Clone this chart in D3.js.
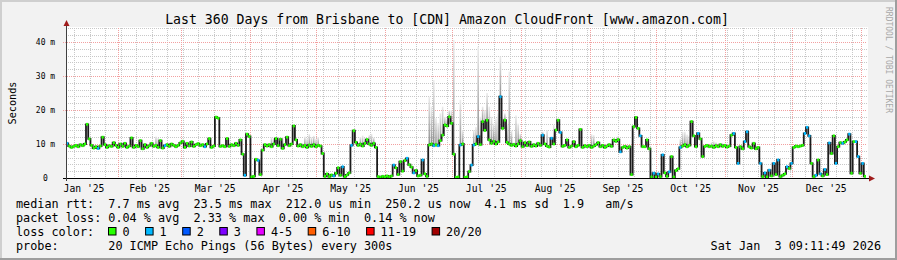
<!DOCTYPE html>
<html><head><meta charset="utf-8">
<script src="https://cdn.jsdelivr.net/npm/d3@7"></script>
<style>
body{margin:0;background:#f2f2f2}
svg{display:block}
text{font-family:"DejaVu Sans Mono",monospace;white-space:pre}
</style>
</head><body><svg id="c" width="897" height="260"></svg>
<script>
// ---------------- data ----------------
const startTime = new Date(2025, 0, 8, 9, 11, 49);
const endTime = new Date(2026, 0, 3, 9, 11, 49);

// daily median rtt (ms), day 0 = Jan 8 2025
const medianMs = [
  10.2, 9.4, 9.0, 9.3, 9.6, 9.2, 9.8, 9.5, 10.0, 15.8,
  11.5, 9.6, 8.8, 9.2, 8.7, 9.4, 12.0, 9.8, 9.0, 9.5,
  9.3, 10.4, 9.6, 9.0, 10.0, 9.3, 10.2, 9.0, 9.4, 11.8,
  9.0, 9.6, 9.2, 11.0, 8.6, 9.8, 9.0, 9.5, 10.2, 9.3,
  9.6, 9.0, 11.0, 8.8, 9.5, 9.8, 9.3, 10.0, 9.6, 9.2,
  9.6, 10.3, 10.8, 9.0, 10.2, 9.4, 10.6, 9.3, 9.8, 10.1,
  9.5, 9.8, 9.2, 10.0, 11.6, 9.0, 9.4, 17.9, 17.6, 9.3,
  9.5, 9.2, 11.6, 9.3, 9.8, 9.5, 10.2, 9.6, 11.2, 7.0,
  0.8, 12.9, 12.2, 0.3, 0.5, 5.5, 5.2, 1.0, 8.2, 9.8,
  9.4, 9.8, 9.2, 10.0, 11.6, 9.5, 11.4, 8.7, 9.8, 12.0,
  9.5, 10.0, 15.3, 11.2, 9.4, 9.8, 9.2, 9.6, 9.0, 9.7,
  9.3, 9.8, 9.2, 9.6, 9.4, 7.2, 0.5, 1.2, 0.4, 0.9,
  0.6, 1.4, 3.0, 0.8, 3.3, 0.4, 0.9, 1.5, 9.6, 13.9,
  10.5, 9.6, 10.0, 9.4, 10.2, 11.3, 10.0, 9.6, 10.2, 9.0,
  0.4, 0.2, 0.5, 0.3, 0.6, 0.3, 0.6, 3.8, 3.0, 1.0,
  4.8, 2.0, 5.1, 5.8, 3.9, 3.2, 1.5, 2.2, 0.6, 0.8,
  5.3, 1.2, 0.5, 9.7, 10.0, 9.5, 9.8, 9.5, 11.0, 12.6,
  15.6, 15.3, 18.0, 16.1, 7.0, 0.2, 0.3, 9.7, 10.0, 0.2,
  0.3, 1.9, 3.8, 9.7, 10.0, 12.2, 9.8, 16.6, 14.0, 17.0,
  11.2, 10.2, 10.8, 10.0, 10.6, 23.9, 14.6, 17.0, 10.5, 10.0,
  9.6, 9.9, 9.4, 10.0, 11.0, 9.2, 10.4, 9.5, 10.6, 9.3,
  9.8, 9.4, 10.2, 9.6, 12.6, 10.0, 9.4, 9.1, 11.7, 10.0,
  14.1, 17.0, 13.4, 9.3, 9.6, 11.2, 9.0, 9.4, 10.7, 9.2,
  9.6, 14.3, 9.0, 9.5, 9.2, 9.6, 9.0, 9.4, 9.8, 10.4,
  9.2, 9.6, 9.0, 9.4, 9.8, 9.3, 11.2, 10.8, 11.3, 7.7,
  9.0, 9.3, 8.8, 9.2, 1.0, 15.1, 17.8, 14.6, 12.4, 9.2,
  9.2, 11.2, 8.6, 0.3, 1.4, 0.2, 1.2, 0.4, 6.8, 1.5,
  0.5, 1.8, 6.3, 0.3, 2.2, 2.7, 9.0, 9.4, 9.8, 9.2,
  9.6, 16.6, 12.4, 9.2, 13.1, 11.5, 6.3, 9.3, 9.6, 9.2,
  9.4, 9.0, 9.5, 9.2, 9.8, 9.3, 9.6, 9.1, 9.4, 12.6,
  13.1, 9.0, 4.3, 9.2, 8.6, 10.7, 13.6, 9.2, 8.8, 10.2,
  8.6, 9.0, 4.3, 0.4, 1.5, 0.3, 2.3, 0.6, 4.3, 1.0,
  5.3, 0.4, 0.8, 1.2, 3.3, 2.8, 4.3, 9.0, 9.4, 9.2,
  9.4, 9.6, 13.1, 14.9, 12.4, 4.3, 0.4, 0.8, 5.3, 1.2,
  0.6, 2.5, 1.0, 10.3, 7.2, 12.4, 4.3, 9.2, 10.4, 10.2,
  10.6, 11.2, 12.9, 1.4, 10.7, 10.7, 6.3, 1.4, 4.3, 0.5
];

// days where 1 of 20 pings was lost (others: 0 loss)
const lossOneDays = [0, 14, 44, 62, 80, 86, 120, 124, 128, 147, 153, 156, 160, 165, 167,
  177, 182, 183, 185, 195, 214, 218, 222, 249, 258, 264, 266, 268, 271, 276, 284,
  300, 302, 305, 306, 312, 314, 316, 318, 320, 324, 326, 332, 333, 334, 337, 339,
  341, 343, 346, 349, 352, 355, 356, 358];

// smoke (max ping) spikes: [day, top ms]
const smokeTops = [
  [40, 12.2], [41, 11.8],
  [92, 12.0], [93, 11.8], [97, 12.0],
  [107, 12.2], [108, 11.6], [109, 12.9], [110, 12.0], [111, 12.4], [112, 11.5], [113, 12.0],
  [132, 12.0], [133, 12.5], [134, 11.8], [136, 12.6], [137, 13.0], [138, 11.9],
  [163, 23.9], [164, 21.0], [165, 28.8], [166, 17.6], [167, 16.2], [168, 19.0], [169, 21.0],
  [170, 18.0], [171, 17.5], [172, 20.0], [173, 20.0], [174, 40.6], [177, 23.0], [178, 14.0],
  [183, 14.1], [184, 15.0], [185, 38.6], [186, 18.0], [187, 21.0], [188, 20.0], [189, 25.0],
  [190, 21.0], [191, 18.0], [192, 16.0], [193, 17.5], [194, 19.0], [195, 35.7], [196, 18.0],
  [197, 19.0], [198, 16.0], [199, 31.3], [200, 14.0], [202, 18.4], [203, 16.0], [204, 13.0],
  [214, 13.6], [216, 14.1], [219, 15.6],
  [236, 12.9], [237, 12.6], [248, 12.3],
  [276, 11.5], [277, 13.6], [278, 13.6], [279, 12.8], [280, 12.5],
  [290, 10.5], [291, 10.8], [292, 10.5]
];

const yTickValues = [0, 10, 20, 30, 40];
const yTickLabels = ["0", "10 m", "20 m", "30 m", "40 m"];
const monthLabels = ["Jan '25", "Feb '25", "Mar '25", "Apr '25", "May '25", "Jun '25",
  "Jul '25", "Aug '25", "Sep '25", "Oct '25", "Nov '25", "Dec '25"];

const title = "Last 360 Days from Brisbane to [CDN] Amazon CloudFront [www.amazon.com]";
const legendRow1 = ["median rtt:", "7.7 ms avg", "23.5 ms max", "212.0 us min", "250.2 us now", "4.1 ms sd", "1.9", "am/s"];
const legendRow1Cols = [0, 13, 25, 38, 52, 66, 77, 83];
const legendRow2 = ["packet loss:", "0.04 % avg", "2.33 % max", "0.00 % min", "0.14 % now"];
const legendRow2Cols = [0, 13, 25, 37, 49];
const lossLabels = ["0", "1", "2", "3", "4-5", "6-10", "11-19", "20/20"];
const lossColors = ["#26ff00", "#00b8ff", "#0059ff", "#7e00ff", "#e600ff", "#ff5e00", "#ff0000", "#a10000"];
const probeText = "20 ICMP Echo Pings (56 Bytes) every 300s";
const stampText = "Sat Jan  3 09:11:49 2026";

// ---------------- drawing ----------------
const W = 897, H = 260;
const X0 = 66, X1 = 866, Y0 = 178, YTOP = 28;
const DAY = 86400000;
const dayDate = d => new Date(startTime.getTime() + d * DAY);

const x = d3.scaleTime().domain([startTime, endTime]).range([X0, X1]);
const y = d3.scaleLinear().domain([0, 150 / 3.4]).range([Y0, YTOP]);

const svg = d3.select("#c");
const defs = svg.append("defs");
const grad = defs.append("linearGradient").attr("id", "smk")
  .attr("x1", 0).attr("y1", 0).attr("x2", 0).attr("y2", 1);
grad.append("stop").attr("offset", "0%").attr("stop-color", "#ececec");
grad.append("stop").attr("offset", "100%").attr("stop-color", "#8e8e8e");

svg.append("rect").attr("width", W).attr("height", H).attr("fill", "#f2f2f2");
svg.append("rect").attr("x", 0).attr("y", 0).attr("width", W).attr("height", 2).attr("fill", "#cfcfcf");
svg.append("rect").attr("x", 0).attr("y", 0).attr("width", 2).attr("height", H).attr("fill", "#cfcfcf");
svg.append("rect").attr("x", 0).attr("y", H - 2).attr("width", W).attr("height", 2).attr("fill", "#9e9e9e");
svg.append("rect").attr("x", W - 2).attr("y", 0).attr("width", 2).attr("height", H).attr("fill", "#9e9e9e");

// canvas
svg.append("rect").attr("x", X0 + 1).attr("y", YTOP - 1).attr("width", X1 - X0 + 1).attr("height", Y0 - YTOP + 1).attr("fill", "#ffffff");

const grid = svg.append("g");
const crisp = v => Math.round(v) + 0.5;
// minor horizontal
d3.range(2, 44.5, 2).filter(v => v % 10 !== 0).forEach(v => {
  grid.append("line").attr("x1", X0).attr("x2", X1 + 1).attr("y1", crisp(y(v))).attr("y2", crisp(y(v)))
    .attr("stroke", "#c8c8c8").attr("stroke-dasharray", "1,1");
});
// minor vertical (weeks)
d3.timeWeek.range(startTime, endTime).forEach(t => {
  grid.append("line").attr("x1", crisp(x(t))).attr("x2", crisp(x(t))).attr("y1", YTOP).attr("y2", Y0)
    .attr("stroke", "#c8c8c8").attr("stroke-dasharray", "1,1");
});
// major vertical (months)
d3.timeMonth.range(startTime, endTime).forEach(t => {
  grid.append("line").attr("x1", crisp(x(t))).attr("x2", crisp(x(t))).attr("y1", YTOP).attr("y2", Y0)
    .attr("stroke", "#f2a0a0").attr("stroke-dasharray", "1,1");
});
// major horizontal
yTickValues.filter(v => v > 0).forEach(v => {
  grid.append("line").attr("x1", X0 - 3).attr("x2", X1 + 1).attr("y1", crisp(y(v))).attr("y2", crisp(y(v)))
    .attr("stroke", "#f2a0a0").attr("stroke-dasharray", "1,1");
});

// smoke
const smokeG = svg.append("g");
smokeTops.forEach(([d, top]) => {
  const xa = x(dayDate(d)), xb = x(dayDate(d + 1));
  const ym = y(medianMs[d]);
  const yt = y(top);
  smokeG.append("rect").attr("x", xa + 0.3).attr("width", Math.max(1.2, (xb - xa) * 0.7))
    .attr("y", yt).attr("height", Math.max(0, ym - yt)).attr("fill", "url(#smk)");
});

// median dark line
const pts = medianMs.map((v, i) => [dayDate(i), v]);
pts.push([dayDate(medianMs.length), medianMs[medianMs.length - 1]]);
svg.append("path").datum(pts)
  .attr("d", d3.line().x(p => x(p[0])).y(p => y(p[1])).curve(d3.curveStepAfter))
  .attr("fill", "none").attr("stroke", "#1c1c1c").attr("stroke-width", 1.8);

// colored median band
const lossSet = new Set(lossOneDays);
svg.append("g").selectAll("rect").data(medianMs).join("rect")
  .attr("x", (v, i) => x(dayDate(i)))
  .attr("width", (v, i) => x(dayDate(i + 1)) - x(dayDate(i)))
  .attr("y", v => y(v) - 1.4)
  .attr("height", 2.8)
  .attr("fill", (v, i) => lossSet.has(i) ? lossColors[1] : lossColors[0]);

// axes
svg.append("line").attr("x1", X0 - 3).attr("x2", X1 + 3).attr("y1", Y0 + 0.5).attr("y2", Y0 + 0.5)
  .attr("stroke", "#000").attr("stroke-width", 1.2);
svg.append("line").attr("x1", X0 + 0.5).attr("x2", X0 + 0.5).attr("y1", Y0 + 3).attr("y2", YTOP - 2)
  .attr("stroke", "#404040").attr("stroke-width", 1);
svg.append("path").attr("d", `M${X1 + 3},${Y0 - 2.5}L${X1 + 9},${Y0 + 0.5}L${X1 + 3},${Y0 + 3.5}Z`).attr("fill", "#a01c1c");
svg.append("path").attr("d", `M${X0 - 2.5},${YTOP - 2}L${X0 + 0.5},${YTOP - 8}L${X0 + 3.5},${YTOP - 2}Z`).attr("fill", "#a01c1c");

// y labels
yTickValues.forEach((v, i) => {
  svg.append("text").attr("x", 45.5).attr("y", y(v) + 3).attr("text-anchor", "middle")
    .attr("font-size", 8).attr("fill", "#000").text(yTickLabels[i]);
});
// x labels at mid-month
monthLabels.forEach((lab, m) => {
  const a = new Date(2025, m, 1), b = new Date(2025, m + 1, 1);
  const mid = new Date((a.getTime() + b.getTime()) / 2);
  svg.append("text").attr("x", x(mid)).attr("y", 191.5).attr("text-anchor", "middle")
    .attr("font-size", 9.7).attr("fill", "#000").text(lab);
});

// title, unit, watermark
svg.append("text").attr("x", 447).attr("y", 24).attr("text-anchor", "middle")
  .attr("font-size", 13.2).attr("fill", "#000").text(title);
svg.append("text").attr("transform", "translate(15.5,103) rotate(-90)").attr("text-anchor", "middle")
  .attr("font-size", 10.2).attr("fill", "#000").text("Seconds");
svg.append("text").attr("transform", "translate(886,7) rotate(90)").attr("text-anchor", "start")
  .attr("font-size", 8).attr("fill", "#a8a8a8").text("RRDTOOL / TOBI OETIKER");

// legend
const LX = 16, CW = 7.1, LF = 11.8;
const rowY = [208, 222, 236, 250];
legendRow1.forEach((s, i) => svg.append("text").attr("x", LX + legendRow1Cols[i] * CW).attr("y", rowY[0])
  .attr("font-size", LF).text(s));
legendRow2.forEach((s, i) => svg.append("text").attr("x", LX + legendRow2Cols[i] * CW).attr("y", rowY[1])
  .attr("font-size", LF).text(s));
svg.append("text").attr("x", LX).attr("y", rowY[2]).attr("font-size", LF).text("loss color:");
let bx = 108;
lossLabels.forEach((lab, i) => {
  svg.append("rect").attr("x", bx + 0.5).attr("y", 227.5).attr("width", 7.5).attr("height", 7.5)
    .attr("fill", lossColors[i]).attr("stroke", "#000").attr("stroke-width", 1);
  const lx = bx + 14.5;
  svg.append("text").attr("x", lx).attr("y", rowY[2]).attr("font-size", LF).text(lab);
  bx = lx + lab.length * CW + 15.5;
});
svg.append("text").attr("x", LX).attr("y", rowY[3]).attr("font-size", LF).text("probe:");
svg.append("text").attr("x", LX + 13 * CW).attr("y", rowY[3]).attr("font-size", LF).text(probeText);
svg.append("text").attr("x", 881).attr("y", rowY[3]).attr("text-anchor", "end").attr("font-size", LF).text(stampText);
</script>
</body></html>
